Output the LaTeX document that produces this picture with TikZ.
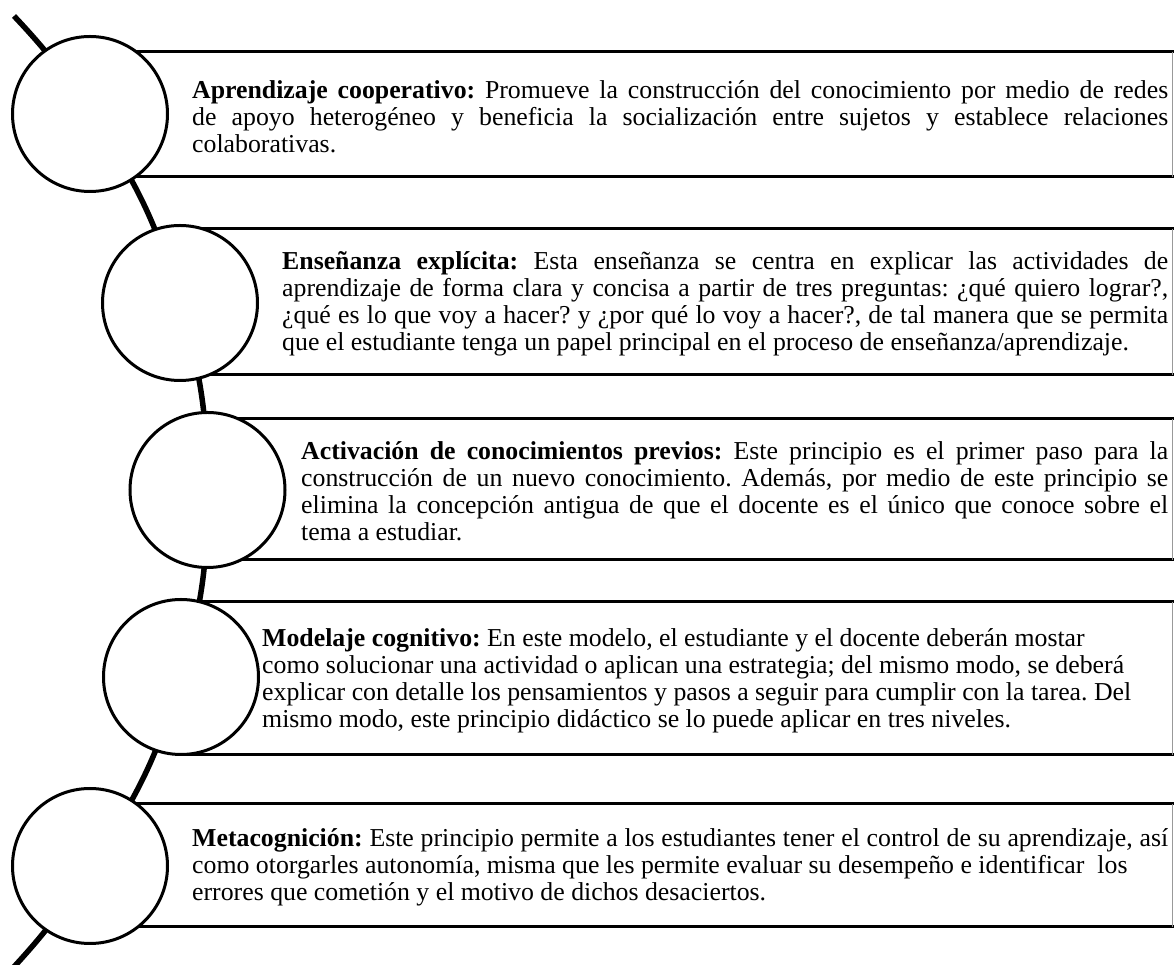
\documentclass[tikz,border=0pt]{standalone}
\usepackage{fontspec}
\setmainfont{Liberation Serif}
\usetikzlibrary{backgrounds}
\tikzset{
  stage/.style={circle, draw=black, line width=3bp, fill=white, minimum size=155bp, inner sep=0pt},
  spine/.style={line width=5.5bp, draw=black},
  rule/.style={line width=3bp, draw=black},
  redge/.style={line width=1bp, draw=black!40},
  desc/.style={inner sep=0pt, anchor=west, font=\fontsize{25.8bp}{27bp}\selectfont},
}
\newcommand{\jl}[1]{\hbox to\hsize{#1}}
\newcommand{\rl}[1]{\hbox{#1}}
\newcommand{\descbox}[2]{\vbox{\hsize=#1\relax\frenchspacing\lineskiplimit=-30bp #2}}
\begin{document}
\begin{tikzpicture}[x=1bp,y=1bp]
\useasboundingbox (0,0) rectangle (1174,965);
% circles
\node[stage] (c1) at (90,851) {};
\node[stage] (c2) at (180,662) {};
\node[stage] (c3) at (207.5,475) {};
\node[stage] (c4) at (181,288) {};
\node[stage] (c5) at (90,99) {};
\coordinate (t0) at (14,949);
\coordinate (b0) at (12,-4);
\begin{scope}[on background layer]
\fill[white] (0,0) rectangle (1174,965);
% boxes
\draw[rule] (90,913) -- (1176,913) (90,788) -- (1176,788);
\draw[rule] (180,736) -- (1176,736) (180,590) -- (1176,590);
\draw[rule] (207,546) -- (1176,546) (207,405) -- (1176,405);
\draw[rule] (181,363) -- (1176,363) (181,210) -- (1176,210);
\draw[rule] (90,161) -- (1176,161) (90,38) -- (1176,38);
\draw[redge] (1172.5,913) -- (1172.5,788);
\draw[redge] (1172.5,736) -- (1172.5,590);
\draw[redge] (1172.5,546) -- (1172.5,405);
\draw[redge] (1172.5,363) -- (1172.5,210);
\draw[redge] (1172.5,161) -- (1172.5,38);
% spine
\draw[spine] (t0) to[bend left=5.5] (c1.center);
\draw[spine] (c1.center) to[bend left=9.2] (c2.center);
\draw[spine] (c2.center) to[bend left=8.25] (c3.center);
\draw[spine] (c3.center) to[bend left=8.25] (c4.center);
\draw[spine] (c4.center) to[bend left=9.2] (c5.center);
\draw[spine] (c5.center) to[bend left=5.5] (b0);
\end{scope}
% texts
\node[desc] (d1) at (192,848.5) {\descbox{976bp}{%
\jl{\textbf{Aprendizaje cooperativo:} Promueve la construcción del conocimiento por medio de redes}
\jl{de apoyo heterogéneo y beneficia la socialización entre sujetos y establece relaciones}
\rl{colaborativas.}}};
\node[desc] (d2) at (282,661) {\descbox{886bp}{%
\jl{\textbf{Enseñanza explícita:} Esta enseñanza se centra en explicar las actividades de}
\jl{aprendizaje de forma clara y concisa a partir de tres preguntas: ¿qué quiero lograr?,}
\jl{¿qué es lo que voy a hacer? y ¿por qué lo voy a hacer?, de tal manera que se permita}
\rl{que el estudiante tenga un papel principal en el proceso de enseñanza/aprendizaje.}}};
\node[desc] (d3) at (301,473.5) {\descbox{867bp}{%
\jl{\textbf{Activación de conocimientos previos:} Este principio es el primer paso para la}
\jl{construcción de un nuevo conocimiento. Además, por medio de este principio se}
\jl{elimina la concepción antigua de que el docente es el único que conoce sobre el}
\rl{tema a estudiar.}}};
\node[desc] (d4) at (262,284.5) {\descbox{906bp}{%
\rl{\textbf{Modelaje cognitivo:} En este modelo, el estudiante y el docente deberán mostar}
\rl{como solucionar una actividad o aplican una estrategia; del mismo modo, se deberá}
\rl{explicar con detalle los pensamientos y pasos a seguir para cumplir con la tarea. Del}
\rl{mismo modo, este principio didáctico se lo puede aplicar en tres niveles.}}};
\node[desc] (d5) at (192,97.5) {\descbox{976bp}{%
\jl{\textbf{Metacognición:} Este principio permite a los estudiantes tener el control de su aprendizaje, así}
\rl{como otorgarles autonomía, misma que les permite evaluar su desempeño e identificar~~los}
\rl{errores que cometión y el motivo de dichos desaciertos.}}};
\end{tikzpicture}
\end{document}
